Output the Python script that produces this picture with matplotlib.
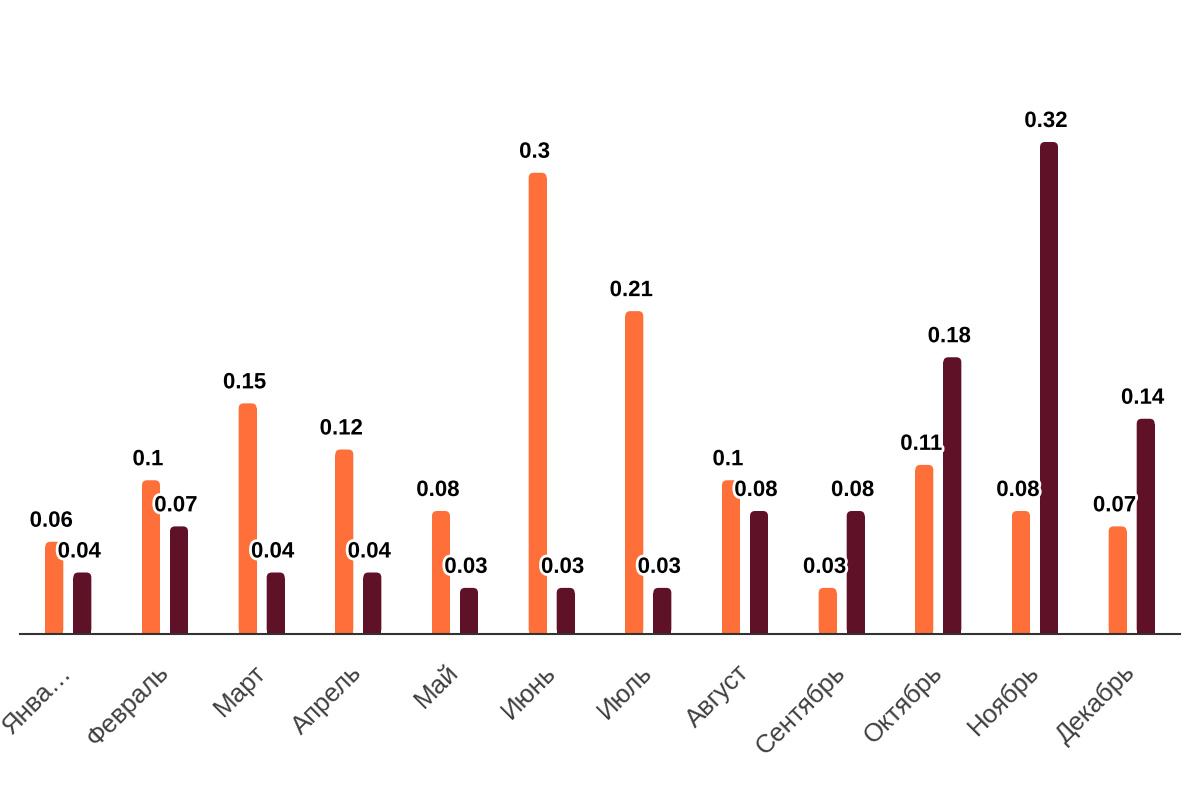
import numpy as np
import matplotlib.pyplot as plt
import matplotlib.patheffects as pe
from matplotlib.patches import FancyBboxPatch

plt.rcParams['font.family'] = ['Liberation Sans', 'DejaVu Sans']

months = ['Янва…', 'Февраль', 'Март', 'Апрель', 'Май', 'Июнь', 'Июль',
          'Август', 'Сентябрь', 'Октябрь', 'Ноябрь', 'Декабрь']
series_a = [0.06, 0.1, 0.15, 0.12, 0.08, 0.3, 0.21, 0.1, 0.03, 0.11, 0.08, 0.07]
series_b = [0.04, 0.07, 0.04, 0.04, 0.03, 0.03, 0.03, 0.08, 0.08, 0.18, 0.32, 0.14]

color_a = '#FF6F3A'
color_b = '#5E1127'

fig = plt.figure(figsize=(12, 8), dpi=100)
ax_h = 0.35 * 1537.5 / 800
ax = fig.add_axes([20/1200, 166/800, 1160/1200, ax_h])
ax.set_xlim(-0.5, 11.5)
ax.set_ylim(0, 0.35)

x = np.arange(len(months))
w = 0.186
off = 0.145

# data units per pixel, for rounded tops
px_x = 12 / 1160
px_y = 0.35 / (ax_h * 800)
r = 5 * px_x
aspect = px_y / px_x

outline = [pe.withStroke(linewidth=4, foreground='white')]

for vals, col, sgn in [(series_a, color_a, -1), (series_b, color_b, 1)]:
    for xi, v in zip(x, vals):
        left = xi + sgn * off - w / 2
        # square lower part + rounded top
        ax.bar(xi + sgn * off, v - r * aspect, width=w, color=col, linewidth=0)
        p = FancyBboxPatch((left, 0), w, v, boxstyle=f"round,pad=0,rounding_size={r}",
                           mutation_aspect=aspect, facecolor=col, edgecolor='none')
        ax.add_patch(p)
        ax.text(xi + sgn * off - 3 * px_x, v + 10 * px_y, f"{v:g}", ha='center', va='bottom',
                fontsize=16, fontweight='bold', color='black', path_effects=outline)

for s in ['top', 'right', 'left']:
    ax.spines[s].set_visible(False)
ax.spines['bottom'].set_color('#333333')
ax.spines['bottom'].set_linewidth(1.5)
ax.set_yticks([])
ax.set_xticks(x)
ax.set_xticklabels(months, rotation=45, ha='right', va='center', rotation_mode='anchor',
                   fontsize=18.5, color='#3f3f3f')
ax.tick_params(axis='x', length=0, pad=25)

fig.savefig('out.png', dpi=100)
